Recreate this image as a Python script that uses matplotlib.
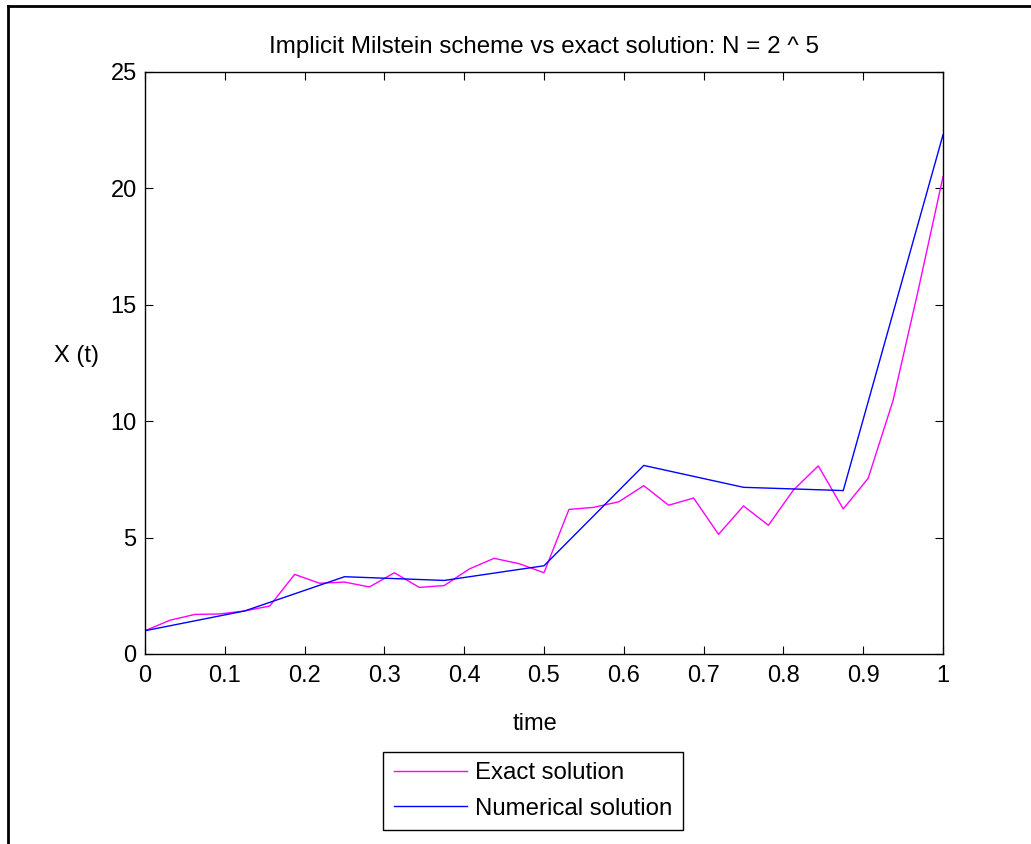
import matplotlib
matplotlib.use("Agg")
import matplotlib.pyplot as plt
from matplotlib.lines import Line2D

plt.rcParams['font.family'] = ['Liberation Sans', 'DejaVu Sans']

# Exact solution sampled on the fine grid (N = 2^5 steps)
t_exact = [k / 32 for k in range(33)]
x_exact = [1.00, 1.45, 1.70, 1.72, 1.85, 2.06, 3.42, 3.04, 3.09, 2.88,
           3.49, 2.86, 2.94, 3.65, 4.11, 3.88, 3.49, 6.21, 6.30, 6.54,
           7.23, 6.39, 6.70, 5.14, 6.36, 5.53, 7.04, 8.08, 6.23, 7.55,
           10.9, 15.6, 20.5]

# Implicit Milstein approximation on the coarse grid
t_num = [k / 8 for k in range(9)]
x_num = [1.00, 1.85, 3.32, 3.16, 3.79, 8.10, 7.16, 7.02, 22.3]

x_ticks = [0, 0.1, 0.2, 0.3, 0.4, 0.5, 0.6, 0.7, 0.8, 0.9, 1]
x_tick_labels = ['0', '0.1', '0.2', '0.3', '0.4', '0.5', '0.6', '0.7', '0.8', '0.9', '1']
y_ticks = [0, 5, 10, 15, 20, 25]

FS = 17

W, H = 1031, 844
fig = plt.figure(figsize=(W / 100, H / 100), dpi=100)
ax = fig.add_axes([145 / W, 1 - 654 / H, (943 - 145) / W, (654 - 72) / H])

ax.plot(t_exact, x_exact, color='#ff00ff', lw=1.0, label='Exact solution')
ax.plot(t_num, x_num, color='#0000ff', lw=1.0, label='Numerical solution')

ax.set_xlim(0, 1)
ax.set_ylim(0, 25)
ax.set_xticks(x_ticks)
ax.set_xticklabels(x_tick_labels)
ax.set_yticks(y_ticks)
ax.tick_params(direction='in', length=6, width=0.8, top=True, right=True,
               labelsize=FS, colors='black')
ax.tick_params(axis='x', pad=8)
ax.tick_params(axis='y', pad=6)
for s in ax.spines.values():
    s.set_linewidth(1.0)
    s.set_color('black')

ax.set_title('Implicit Milstein scheme vs exact solution: N = 2 ^ 5',
             fontsize=17.4, pad=14)
ax.set_xlabel('time', fontsize=FS)
ax.xaxis.set_label_coords(0.489, -0.121)
ax.xaxis.label.set_va('center')
ax.set_ylabel('X (t)', fontsize=FS, rotation=0, va='center', ha='center')
ax.yaxis.set_label_coords(-0.086, 0.512)

leg = fig.legend(loc='center', bbox_to_anchor=((381 + 685) / 2 / W, 1 - 791 / H),
                 fontsize=17.3, handlelength=3.05, handletextpad=0.35,
                 borderpad=0.42, labelspacing=0.56, fancybox=False,
                 framealpha=1, edgecolor='black', borderaxespad=0)
leg.get_frame().set_linewidth(1.0)

# Outer frame lines along the top and left edges
fig.add_artist(Line2D([8 / W, 1.0], [1 - 6 / H, 1 - 6 / H],
                      transform=fig.transFigure, color='black', lw=2))
fig.add_artist(Line2D([8 / W, 8 / W], [0.0, 1 - 6 / H],
                      transform=fig.transFigure, color='black', lw=2))

fig.savefig('out.png', dpi=100, facecolor='white')
